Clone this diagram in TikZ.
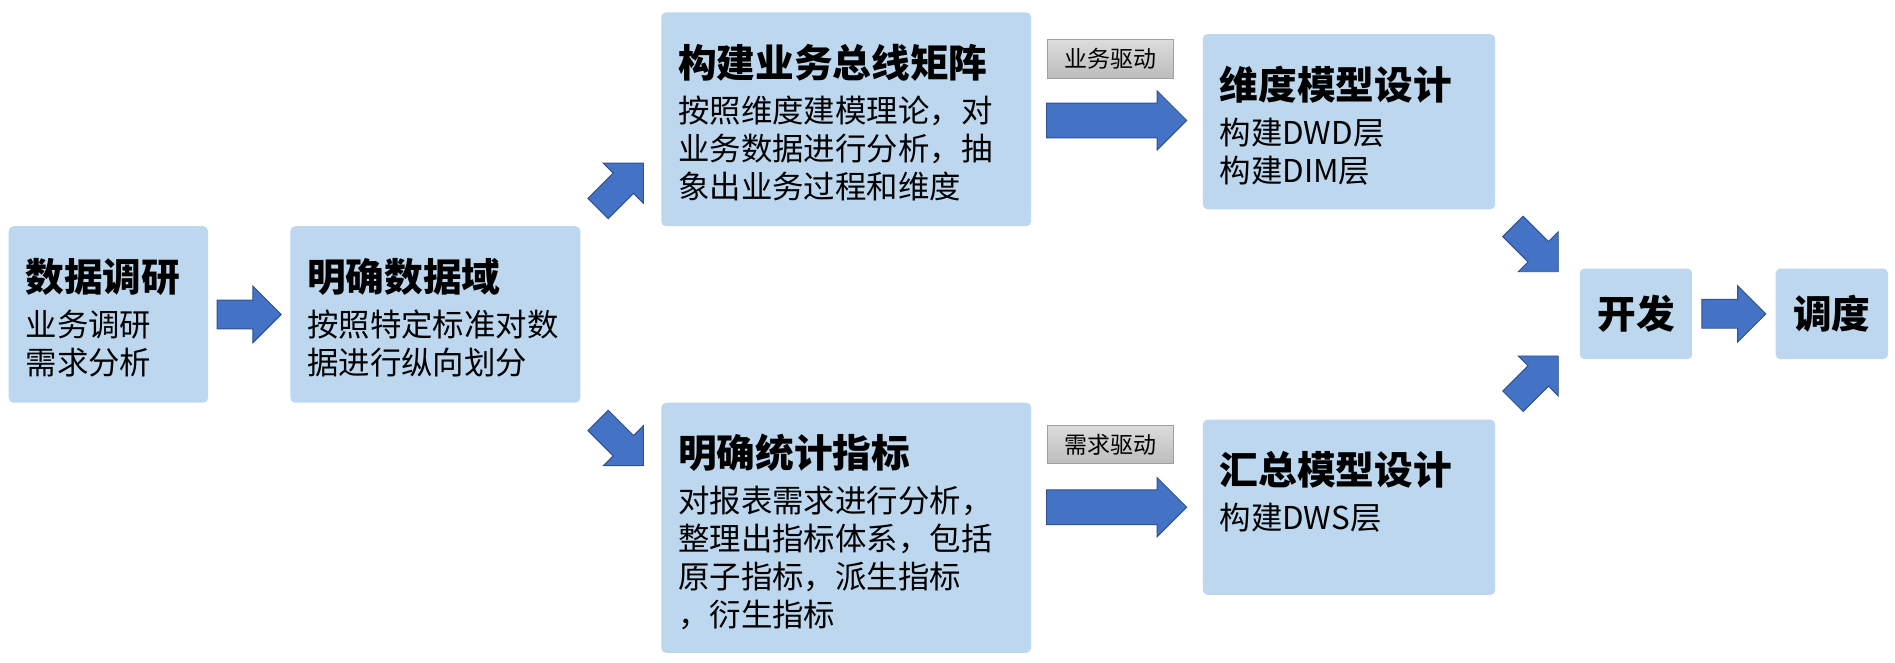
\documentclass[tikz,border=0pt]{standalone}
\usepackage{fontspec}
\newfontfamily\cjk{Noto Sans CJK SC}
\usetikzlibrary{shapes.arrows,calc}
\definecolor{boxblue}{HTML}{BDD7EE}
\definecolor{arrowblue}{HTML}{4472C4}
\definecolor{arrowedge}{HTML}{2F528F}
\definecolor{labtop}{HTML}{DCDCDC}
\definecolor{labbot}{HTML}{BCBCBC}
\definecolor{labedge}{HTML}{A0A0A0}

\tikzset{
  box/.style={fill=boxblue, rounded corners=4pt, inner sep=0pt, anchor=north west},
  title/.style={font=\cjk\bfseries\fontsize{32}{38}\selectfont, anchor=west, inner sep=0pt},
  body/.style={font=\cjk\fontsize{26}{31}\selectfont, anchor=west, inner sep=0pt},
  barrow/.style={single arrow, fill=arrowblue, draw=arrowedge, line width=0.8pt, inner xsep=0pt,
    inner ysep=11.5pt, minimum height=53pt, single arrow head extend=11.5pt},
  longarrow/.style={barrow, minimum height=116pt, inner ysep=14pt, single arrow head extend=10pt},
  lab/.style={top color=labtop, bottom color=labbot, draw=labedge, line width=0.8pt, inner sep=0pt,
    minimum width=104pt, minimum height=32pt, font=\cjk\fontsize{19}{22}\selectfont, anchor=south west}
}

\begin{document}
\begin{tikzpicture}[x=1pt,y=-1pt]
  \useasboundingbox (0,0) rectangle (1568,548);
  % boxes
  \foreach \n/\x/\y/\w/\h in {A/7/187/165/146, B/240/187/240/146, C/547/10/306/177,
                              D/547/333/306/207, E/995/28/242/145, F/995/347/242/145}
    \node[box, minimum width=\w, minimum height=\h] (\n) at (\x,\y) {};
  \node[box, minimum width=93, minimum height=75, font=\cjk\bfseries\fontsize{32}{38}\selectfont] (G) at (1307,222) {开发};
  \node[box, minimum width=93, minimum height=75, font=\cjk\bfseries\fontsize{32}{38}\selectfont] (H) at (1469,222) {调度};
  % titles
  \foreach \n/\t in {A/数据调研, B/明确数据域, C/构建业务总线矩阵, D/明确统计指标, E/维度模型设计, F/汇总模型设计}
    \node[title] (t\n) at ($(\n.north west)+(14,42)$) {\t};
  % body lines
  \foreach \n/\i/\t in {A/0/业务调研, A/1/需求分析,
                        B/0/按照特定标准对数, B/1/据进行纵向划分,
                        C/0/按照维度建模理论，对, C/1/业务数据进行分析，抽, C/2/象出业务过程和维度,
                        D/0/对报表需求进行分析，, D/1/整理出指标体系，包括, D/2/原子指标，派生指标, D/3/，衍生指标,
                        E/0/构建DWD层, E/1/构建DIM层,
                        F/0/构建DWS层}
    \node[body] (b\n\i) at ($(\n.north west)+(14,81.5+31.5*\i)$) {\t};
  % arrows
  \node[barrow] (a1) at ($(A.east)!0.5!(B.west)+(-6,0)$) {};
  \node[barrow, rotate=45] (a2) at ($(B.north east)+(29,-29)$) {};
  \node[barrow, rotate=-45] (a3) at ($(B.south east)+(29,29)$) {};
  \node[longarrow] (a4) at ($(C.east)!0.5!(E.west)+(-7.5,0)$) {};
  \node[longarrow] (a5) at ($(D.east |- F.west)!0.5!(F.west)+(-7.5,0)$) {};
  \node[barrow, rotate=-45] (a6) at ($(E.south east)+(29,28.5)$) {};
  \node[barrow, rotate=45] (a7) at ($(F.north east)+(29,-29.5)$) {};
  \node[barrow] (a8) at ($(G.east)!0.5!(H.west)+(-6,0)$) {};
  % labels
  \node[lab] (l1) at ($(C.east)+(13,-33.5)$) {业务驱动};
  \node[lab] (l2) at ($(D.east |- F.west)+(13,-35.5)$) {需求驱动};
\end{tikzpicture}
\end{document}
